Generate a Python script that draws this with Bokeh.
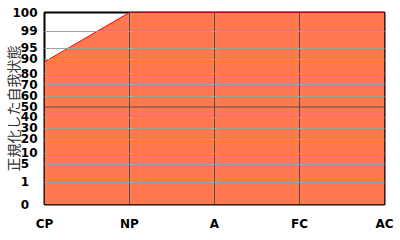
import numpy as np
from bokeh.plotting import figure
from bokeh.models import Range1d, FixedTicker, Span
from bokeh.embed import file_html
from bokeh.resources import INLINE

# ---- data ----
categories = ["CP", "NP", "A", "FC", "AC"]
values = [88, 100, 100, 100, 100]

# y-axis: percentile ticks on a non-linear (custom) scale
tick_values = [0, 1, 5, 10, 20, 30, 40, 50, 60, 70, 80, 90, 95, 99, 100]
tick_labels = ["0", "1", "5", "10", "20", "30", "40", "50", "60", "70",
               "80", "90", "95", "99", "100"]
# axis scale definition (scale units of the custom axis)
scale_points = [0, 22.5, 40.5, 51.5, 65.5, 76.5, 87.5, 97.5, 108.5, 120,
                131, 145.5, 156.5, 173.5, 192]

y_title = "正規化した自我状態"


def yscale(v):
    return np.interp(v, tick_values, scale_points)


xs = list(range(len(categories)))
ys = [float(yscale(v)) for v in values]

p = figure(width=400, height=240, output_backend="svg", toolbar_location=None,
           x_range=Range1d(0, len(categories) - 1), y_range=Range1d(0, 192),
           min_border_left=44, min_border_right=16, min_border_top=12,
           min_border_bottom=36)
p.background_fill_color = "white"
p.border_fill_color = "white"
p.outline_line_color = "black"
p.outline_line_width = 2

p.varea(x=xs, y1=[0] * len(xs), y2=ys, fill_color="#ff7850", fill_alpha=1.0)
p.line(x=xs, y=ys, line_color="red", line_width=1)

# grids above the fill
tick_pos = [float(yscale(v)) for v in tick_values]
p.ygrid.ticker = FixedTicker(ticks=[t for v, t in zip(tick_values, tick_pos) if v not in (0, 50, 100)])
p.ygrid.grid_line_color = "#a0a0a0"
p.ygrid.grid_line_width = 1
p.ygrid.level = "guide"
p.xgrid.ticker = FixedTicker(ticks=xs[1:-1])
p.xgrid.grid_line_color = "#505050"
p.xgrid.grid_line_width = 1
p.xgrid.level = "guide"
p.add_layout(Span(location=float(yscale(50)), dimension="width",
                  line_color="#505050", line_width=1, level="guide"))

def pad(s):
    return s + "\u2007" if len(s) == 1 else s

# y axis
p.yaxis.ticker = FixedTicker(ticks=tick_pos)
p.yaxis.major_label_overrides = {t: pad(l) for t, l in zip(tick_pos, tick_labels)}
p.yaxis.major_label_text_font = "DejaVu Sans"
p.yaxis.major_label_text_font_style = "bold"
p.yaxis.major_label_text_font_size = "12px"
p.yaxis.major_label_text_color = "black"
p.yaxis.major_label_standoff = 1
p.yaxis.major_tick_line_color = None
p.yaxis.minor_tick_line_color = None
p.yaxis.axis_line_color = None
p.yaxis.axis_label = y_title
p.yaxis.axis_label_text_font = "Noto Sans CJK JP"
p.yaxis.axis_label_text_font_style = "normal"
p.yaxis.axis_label_text_font_size = "14px"
p.yaxis.axis_label_text_color = "#333333"
p.yaxis.axis_label_standoff = -14

# x axis
p.xaxis.ticker = FixedTicker(ticks=xs)
p.xaxis.major_label_overrides = {i: c for i, c in zip(xs, categories)}
p.xaxis.major_label_text_font = "DejaVu Sans"
p.xaxis.major_label_text_font_style = "bold"
p.xaxis.major_label_text_font_size = "12px"
p.xaxis.major_label_text_color = "black"
p.xaxis.major_label_standoff = 6
p.xaxis.major_tick_line_color = None
p.xaxis.minor_tick_line_color = None
p.xaxis.axis_line_color = None

open("out.html", "w").write(file_html(p, INLINE))
